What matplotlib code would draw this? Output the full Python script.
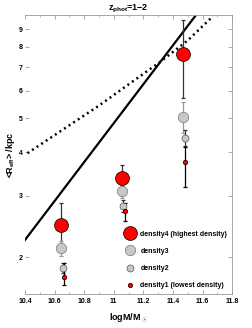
import numpy as np
import matplotlib
matplotlib.use('Agg')
import matplotlib.pyplot as plt
from matplotlib.ticker import FixedLocator, NullFormatter, NullLocator, MultipleLocator

plt.rcParams['font.family'] = ['Liberation Sans', 'DejaVu Sans']
plt.rcParams['mathtext.fontset'] = 'custom'
plt.rcParams['mathtext.rm'] = 'Liberation Sans:bold'
plt.rcParams['mathtext.it'] = 'Liberation Sans:bold'

# relation lines
line_x = [10.4, 11.55]
line_y = [2.24, 9.8]
dot_x = [10.417, 10.65, 10.905, 11.10, 11.312, 11.50, 11.671]
dot_y = [3.97, 4.62, 5.45, 6.25, 7.24, 8.35, 9.8]

# density bins: x, y, lower, upper
labels = ['density4 (highest density)', 'density3', 'density2', 'density1 (lowest density)']
d4_x = [10.647, 11.056, 11.466]
d4_y = [2.47, 3.37, 7.63]
d4_lo = [2.12, 3.10, 5.71]
d4_hi = [2.86, 3.67, 9.54]
d3_x = [10.647, 11.056, 11.470]
d3_y = [2.12, 3.09, 5.04]
d3_lo = [2.02, 2.95, 4.55]
d3_hi = [2.22, 3.22, 5.55]
d2_x = [10.656, 11.063, 11.481]
d2_y = [1.86, 2.80, 4.38]
d2_lo = [1.80, 2.70, 4.15]
d2_hi = [1.93, 2.92, 4.62]
d1_x = [10.663, 11.075, 11.481]
d1_y = [1.76, 2.71, 3.75]
d1_lo = [1.67, 2.54, 3.17]
d1_hi = [1.92, 2.85, 4.13]

fig = plt.figure(figsize=(2.52, 3.28), dpi=100)
ax = fig.add_axes([0.099, 0.104, 0.822, 0.849])
ax.set_yscale('log')

ax.plot(dot_x, dot_y, color='black', lw=1.8, ls=(0, (0.8, 1.4)), zorder=2)
ax.plot(line_x, line_y, color='black', lw=1.6, zorder=2)

series = [
    (d4_x, d4_y, d4_lo, d4_hi, 'red', 'black', '#333333', 10),
    (d3_x, d3_y, d3_lo, d3_hi, '#c8c8c8', '#777777', '#999999', 7.5),
    (d2_x, d2_y, d2_lo, d2_hi, '#c8c8c8', '#555555', '#333333', 5),
    (d1_x, d1_y, d1_lo, d1_hi, 'red', 'black', 'black', 3.2),
]
for (x, y, lo, hi, fc, ec, errc, ms), lab in zip(series, labels):
    y = np.array(y)
    yerr = [y - np.array(lo), np.array(hi) - y]
    ax.errorbar(x, y, yerr=yerr, fmt='none', ecolor=errc, elinewidth=0.9,
                capsize=1.5, capthick=0.9, zorder=3)
    ax.plot(x, y, 'o', color=fc, mec=ec, mew=0.5, ms=ms, label=lab, zorder=4)

ax.set_xlim(10.4, 11.8)
ax.set_ylim(1.57, 9.85)
ax.xaxis.set_major_locator(FixedLocator([10.4, 10.6, 10.8, 11.0, 11.2, 11.4, 11.6, 11.8]))
ax.set_xticklabels(['10.4', '10.6', '10.8', '11', '11.2', '11.4', '11.6', '11.8'])
ax.xaxis.set_minor_locator(MultipleLocator(0.1))
ax.yaxis.set_major_locator(FixedLocator([2, 3, 4, 5, 6, 7, 8, 9]))
ax.set_yticklabels(['2', '3', '4', '5', '6', '7', '8', '9'])
ax.yaxis.set_minor_locator(NullLocator())
ax.yaxis.set_minor_formatter(NullFormatter())

ax.tick_params(which='both', direction='in', top=True, right=True, color='#888888',
               labelsize=5, pad=3)
ax.tick_params(axis='y', pad=1.5)
ax.tick_params(which='major', length=3, width=0.5)
ax.tick_params(which='minor', length=1.5, width=0.4)
for t in ax.get_xticklabels() + ax.get_yticklabels():
    t.set_fontweight('bold')
for s in ['top', 'right', 'bottom']:
    ax.spines[s].set_color('#999999')
    ax.spines[s].set_linewidth(0.6)
ax.spines['left'].set_visible(False)

ax.set_title(r'z$_{\mathregular{phot}}$=1$-$2', fontsize=6.5, fontweight='bold', pad=3)
ax.set_xlabel(r'logM/M$_\odot$', fontsize=6.5, fontweight='bold', labelpad=4)
ax.set_ylabel(r'<R$_{\mathregular{eff}}$> /kpc', fontsize=6.5, fontweight='bold', labelpad=1)

leg = ax.legend(loc='lower right', frameon=False, handletextpad=0.4,
                labelspacing=1.45, borderaxespad=0.3, handlelength=2.2,
                prop={'weight': 'bold', 'size': 5})

fig.savefig('out.png', dpi=100)
